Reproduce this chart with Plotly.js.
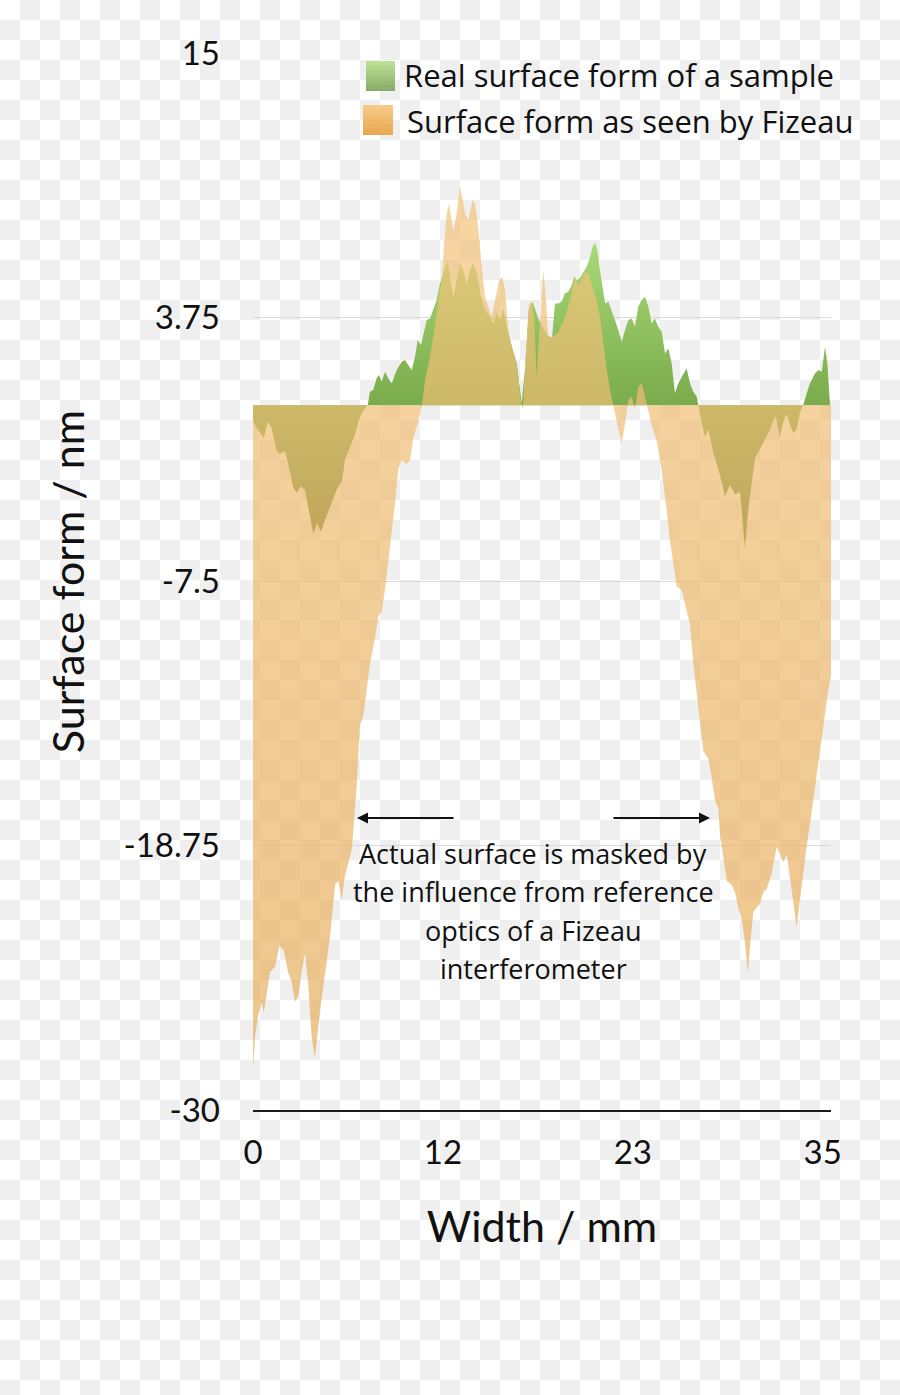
<!DOCTYPE html>
<html>
<head>
<meta charset="utf-8">
<script src="https://cdn.plot.ly/plotly-3.0.1.min.js"></script>
<style>
html,body{margin:0;padding:0;}
body{width:900px;height:1395px;background-color:#fff;
background-image:repeating-conic-gradient(#efefef 0% 25%, #ffffff 0% 50%);
background-size:40px 40px;background-position:0 0;}
#chart{width:900px;height:1395px;}
</style>
</head>
<body>
<div id="chart"></div>
<script>
// ---- data ----
const seriesNames = ['Real surface form of a sample', 'Surface form as seen by Fizeau'];

const xReal = [0, 0.22, 0.65, 0.89, 1.13, 1.44, 1.63, 1.94, 2.14, 2.44,
  2.65, 2.91, 3.15, 3.45, 3.65, 3.88, 4.12, 4.36, 4.77, 5.09,
  5.39, 5.57, 5.87, 6.18, 6.48, 6.78, 6.95, 7.08, 7.28, 7.49,
  7.63, 7.79, 7.99, 8.19, 8.40, 8.70, 9.00, 9.20, 9.40, 9.61,
  9.81, 9.97, 10.17, 10.37, 10.52, 10.72, 10.92, 11.12, 11.32, 11.58,
  11.79, 11.93, 12.13, 12.33, 12.53, 12.73, 12.94, 13.14, 13.34, 13.55,
  13.75, 14.05, 14.35, 14.55, 14.76, 14.96, 15.16, 15.36, 15.56, 15.76,
  15.97, 16.17, 16.27, 16.47, 16.69, 16.93, 17.26, 17.62, 17.92, 18.11,
  18.29, 18.49, 18.69, 18.89, 19.09, 19.30, 19.44, 19.60, 19.80, 20.00,
  20.21, 20.41, 20.57, 20.71, 20.85, 21.01, 21.18, 21.32, 21.52, 21.72,
  21.92, 22.12, 22.33, 22.53, 22.73, 22.93, 23.13, 23.33, 23.54, 23.74,
  23.94, 24.14, 24.34, 24.54, 24.75, 24.95, 25.15, 25.35, 25.55, 25.75,
  25.96, 26.26, 26.46, 26.66, 26.87, 26.97, 27.17, 27.37, 27.57, 27.87,
  28.28, 28.58, 28.88, 29.19, 29.49, 29.79, 29.99, 30.22, 30.40, 30.70,
  31.00, 31.31, 31.51, 31.67, 31.88, 32.18, 32.34, 32.52, 32.72, 32.92,
  33.12, 33.32, 33.53, 33.73, 34.03, 34.23, 34.44, 34.64, 34.78, 34.94];

const yReal = [-0.67, -0.95, -1.39, -0.71, -0.97, -1.95, -2.05, -1.95, -2.50, -3.52,
  -3.72, -3.44, -3.61, -4.82, -5.47, -5.01, -5.38, -4.88, -4.16, -3.56,
  -3.22, -2.33, -1.78, -1.23, -0.49, -0.11, 0.01, 0.58, 0.65, 1.15,
  1.29, 1.00, 1.43, 1.15, 0.94, 1.50, 1.86, 1.93, 1.72, 1.50,
  2.07, 2.78, 2.57, 3.21, 3.63, 3.70, 4.13, 4.48, 5.19, 5.76,
  6.11, 5.47, 4.62, 5.33, 6.05, 5.76, 5.12, 5.76, 6.05, 5.62,
  4.77, 4.06, 3.77, 3.49, 3.92, 3.63, 4.13, 3.35, 2.78, 2.28,
  1.79, 0.65, 0.09, 1.50, 4.06, 4.41, 3.72, 3.21, 2.92, 2.91,
  4.34, 4.34, 4.41, 4.77, 4.84, 5.12, 5.47, 5.33, 5.42, 5.67,
  5.90, 6.33, 6.75, 6.92, 6.61, 5.76, 5.05, 4.34, 4.41, 4.06,
  3.63, 3.21, 2.71, 3.21, 3.63, 3.70, 3.35, 4.20, 4.48, 4.62,
  4.20, 3.49, 3.70, 3.35, 3.13, 2.21, 2.43, 1.79, 0.51, 0.94,
  1.22, 1.58, 0.94, 0.58, 0.37, -0.03, -0.75, -1.35, -1.03, -2.01,
  -2.98, -3.88, -3.39, -3.80, -3.69, -6.07, -4.46, -3.18, -2.24, -1.86,
  -1.43, -1.03, -0.63, -0.46, -1.35, -0.54, -0.37, -0.84, -1.18, -1.03,
  -0.29, 0.01, 0.51, 0.94, 1.36, 1.50, 1.43, 2.49, 1.79, 0.01];

const xFizeau = [0, 0.12, 0.32, 0.53, 0.65, 0.83, 1.03, 1.33, 1.60, 1.85,
  2.12, 2.34, 2.54, 2.74, 2.95, 3.15, 3.35, 3.55, 3.75, 4.06,
  4.36, 4.66, 4.97, 5.17, 5.37, 5.57, 5.98, 6.28, 6.48, 6.68,
  7.08, 7.39, 7.59, 7.79, 7.99, 8.30, 8.60, 8.80, 9.00, 9.31,
  9.51, 9.71, 10.01, 10.22, 10.42, 10.72, 11.02, 11.22, 11.43, 11.58,
  11.73, 11.87, 11.99, 12.13, 12.33, 12.53, 12.67, 12.84, 13.04, 13.30,
  13.44, 13.64, 13.85, 14.05, 14.25, 14.45, 14.70, 14.90, 15.10, 15.26,
  15.46, 15.67, 15.87, 16.07, 16.23, 16.33, 16.47, 16.71, 16.88, 17.03,
  17.17, 17.38, 17.58, 17.74, 17.88, 18.11, 18.47, 18.83, 19.21, 19.50,
  19.70, 19.91, 20.10, 20.30, 20.61, 20.81, 21.01, 21.21, 21.42, 21.62,
  21.83, 22.08, 22.32, 22.56, 22.73, 22.93, 23.13, 23.33, 23.54, 23.74,
  23.94, 24.14, 24.45, 24.75, 25.05, 25.25, 25.45, 25.66, 25.96, 26.26,
  26.46, 26.66, 26.87, 27.07, 27.27, 27.57, 27.78, 27.98, 28.18, 28.28,
  28.48, 28.69, 28.99, 29.19, 29.39, 29.59, 29.79, 29.96, 30.10, 30.30,
  30.50, 30.70, 30.90, 31.11, 31.41, 31.71, 31.91, 32.11, 32.32, 32.52,
  32.72, 32.92, 33.12, 33.50, 33.85, 34.20, 34.50, 34.80, 35.00];

const yFizeau = [-28.34, -26.9, -25.96, -25.4, -25.87, -24.93, -24.12, -23.91, -23.02, -23.19,
  -24.12, -24.55, -25.4, -25.15, -24.08, -23.36, -24.68, -26.89, -27.78, -25.78,
  -24.12, -22.63, -20.41, -20.25, -21.06, -20.04, -18.93, -16.16, -13.61, -13.23,
  -11.01, -9.91, -8.97, -8.80, -7.86, -6.03, -4.16, -2.71, -2.33, -2.50,
  -2.33, -1.39, -0.67, -0.02, 1.08, 2.07, 3.35, 4.48, 5.34, 6.90,
  8.17, 8.60, 8.03, 7.39, 8.17, 9.31, 8.88, 8.17, 7.89, 8.74,
  8.60, 7.60, 5.90, 4.62, 4.20, 3.77, 4.62, 5.33, 5.47, 4.91,
  3.21, 2.49, 2.07, 1.22, 0.09, -0.20, 1.50, 4.34, 4.41, 3.77,
  1.22, 3.49, 5.76, 4.49, 2.92, 2.91, 3.08, 3.63, 4.48, 5.47,
  5.12, 5.33, 5.69, 5.62, 4.91, 4.48, 3.77, 2.64, 1.50, 0.65,
  -0.06, -0.91, -1.62, -0.63, 0.23, 0.37, -0.20, 0.79, 0.94, 0.37,
  -0.20, -0.86, -1.52, -2.82, -4.45, -5.75, -6.73, -7.71, -7.86, -8.68,
  -9.34, -10.97, -12.27, -13.41, -14.72, -15.04, -15.85, -16.83, -17.16, -18.29,
  -19.27, -20.25, -20.42, -20.74, -21.39, -21.88, -22.86, -24.17, -23.02, -21.55,
  -21.39, -21.23, -20.74, -20.58, -19.93, -18.79, -19.11, -19.44, -19.11, -20.08,
  -21.23, -22.21, -21.07, -18.9, -17.2, -15.4, -13.8, -12.3, -11.5];

const xTickVals = [0, 11.5, 23, 34.5];
const xTickText = ['0', '12', '23', '35'];
const yTickVals = [-30, -18.75, -7.5, 3.75, 15];
const yTickText = ['-30', '-18.75', '-7.5', '3.75', '15'];

const noteLines = ['Actual surface is masked by', 'the influence from reference',
                   'optics of a Fizeau', 'interferometer'];

// ---- styling / layout ----
const FONT = 'Lato, "Open Sans", "DejaVu Sans", sans-serif';
const FONT2 = '"Open Sans", Lato, "DejaVu Sans", sans-serif';
const L = 253, R = 831, T = 53, B = 1110;
const px2x = p => (p - L) / (R - L);
const py2y = p => (B - p) / (B - T);

const traces = [
  {
    x: xReal, y: yReal, name: seriesNames[0], type: 'scatter', mode: 'lines',
    fill: 'tozeroy', line: {width: 0, color: 'rgb(122,171,76)'},
    fillgradient: {type: 'vertical', start: -6.1, stop: 7,
      colorscale: [[0, 'rgb(80,115,40)'], [0.466, 'rgb(122,171,76)'], [1, 'rgb(168,218,118)']]},
    hoverinfo: 'skip'
  },
  {
    x: xFizeau, y: yFizeau, name: seriesNames[1], type: 'scatter', mode: 'lines',
    fill: 'tozeroy', line: {width: 0, color: 'rgb(238,188,114)'},
    fillgradient: {type: 'vertical', start: -28.4, stop: 9.4,
      colorscale: [[0, 'rgba(231,174,92,0.7)'], [1, 'rgba(243,196,124,0.7)']]},
    hoverinfo: 'skip'
  }
];

function mix(a, b, t) {
  return 'rgb(' + a.map((v, i) => Math.round(v + (b[i] - v) * t)).join(',') + ')';
}
const shapes = [];
function swatch(x0, x1, y0, y1, top, bot) {
  const n = 12;
  for (let i = 0; i < n; i++) {
    const ya = y0 + (y1 - y0) * i / n, yb = y0 + (y1 - y0) * (i + 1) / n + 0.4;
    shapes.push({type: 'rect', xref: 'paper', yref: 'paper', layer: 'above',
      x0: px2x(x0), x1: px2x(x1), y0: py2y(ya), y1: py2y(Math.min(yb, y1)),
      fillcolor: mix(top, bot, (i + 0.5) / n), line: {width: 0}});
  }
}
swatch(366, 395, 61, 91, [190, 226, 148], [132, 170, 100]);
swatch(363, 393, 105, 135, [247, 202, 138], [232, 166, 76]);

const annotations = [
  {xref: 'paper', yref: 'paper', x: px2x(402), y: py2y(75), xanchor: 'left', yanchor: 'middle',
   text: seriesNames[0], showarrow: false, font: {size: 31, color: '#111', family: FONT2}},
  {xref: 'paper', yref: 'paper', x: px2x(405), y: py2y(121), xanchor: 'left', yanchor: 'middle',
   text: seriesNames[1], showarrow: false, font: {size: 31, color: '#111', family: FONT2}},
  {xref: 'paper', yref: 'paper', x: px2x(357), y: py2y(818), ax: 98, ay: 0,
   text: '', showarrow: true, arrowhead: 2, arrowsize: 1.1, arrowwidth: 2, arrowcolor: '#111'},
  {xref: 'paper', yref: 'paper', x: px2x(710), y: py2y(818), ax: -98, ay: 0,
   text: '', showarrow: true, arrowhead: 2, arrowsize: 1.1, arrowwidth: 2, arrowcolor: '#111'}
];
noteLines.forEach((t, i) => {
  annotations.push({xref: 'paper', yref: 'paper', x: px2x(533), y: py2y(853 + i * 38.5),
    xanchor: 'center', yanchor: 'middle', text: t, showarrow: false,
    font: {size: 27, color: '#111', family: FONT2}});
});

const layout = {
  width: 900, height: 1395,
  margin: {l: L, r: 900 - R, t: T, b: 1395 - B, pad: 0},
  paper_bgcolor: 'rgba(0,0,0,0)', plot_bgcolor: 'rgba(0,0,0,0)',
  showlegend: false,
  font: {family: FONT, color: '#111'},
  xaxis: {
    range: [0, 35], tickvals: xTickVals, ticktext: xTickText, ticks: '',
    showgrid: false, zeroline: false, showline: true, linecolor: '#1a1a1a', linewidth: 2,
    tickfont: {size: 33, family: FONT, color: '#111'}, ticklabelstandoff: 12,
    title: {text: 'Width / mm', font: {size: 43, family: FONT, color: '#111'}, standoff: 42},
    fixedrange: true
  },
  yaxis: {
    range: [-30, 15], tickvals: yTickVals, ticktext: yTickText, ticks: '',
    showgrid: true, gridcolor: '#dadada', gridwidth: 1, zeroline: false, showline: false,
    tickfont: {size: 33, family: FONT, color: '#111'}, ticklabelstandoff: 32,
    title: {text: 'Surface form / nm', font: {size: 43, family: FONT, color: '#111'}, standoff: 25},
    fixedrange: true
  },
  shapes: shapes,
  annotations: annotations
};

Plotly.newPlot('chart', traces, layout, {displayModeBar: false, staticPlot: true});
</script>
</body>
</html>
